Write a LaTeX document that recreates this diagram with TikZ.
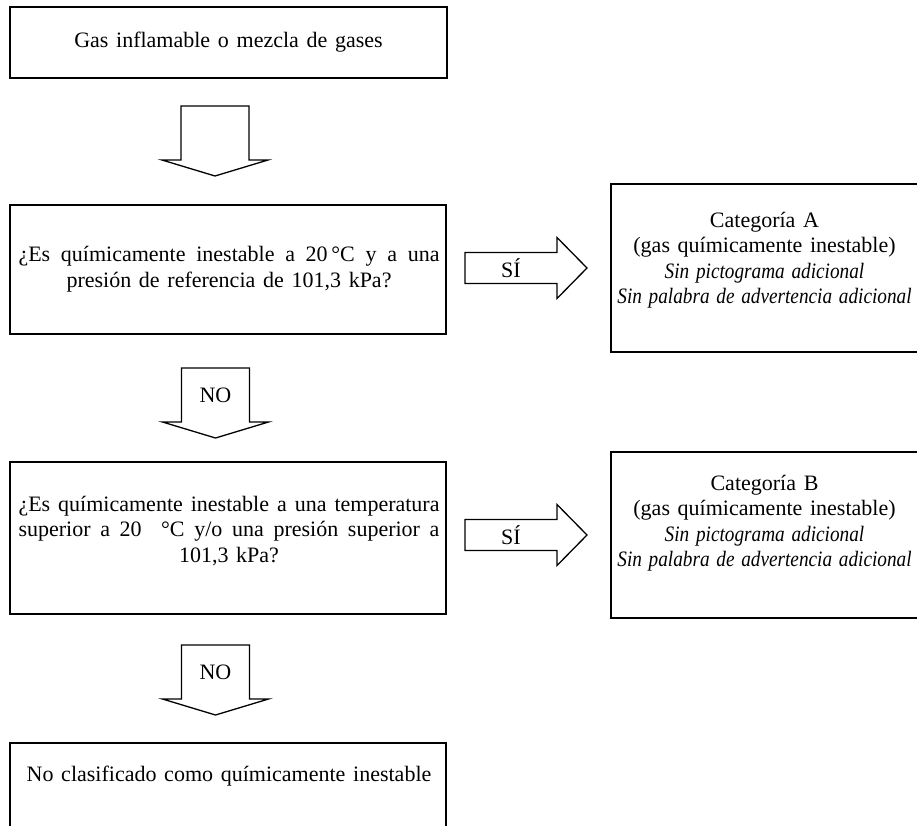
\documentclass[tikz,border=0pt]{standalone}
\usepackage{fontspec}
\setmainfont{Liberation Serif}[WordSpace={1.4,1.6,1}]
\usetikzlibrary{calc}

\tikzset{
  box/.style={draw, line width=1.6pt, inner sep=0pt, rectangle},
  blockarrow/.style={draw, line width=1.3pt, line join=miter, fill=white},
  txt/.style={font=\fontsize{22}{25.5}\selectfont, align=center, inner sep=0pt},
  lbl/.style={font=\fontsize{22}{25.5}\selectfont, inner sep=0pt},
}
% italic remark lines, set slightly narrower
\newcommand{\remark}[1]{\scalebox{0.875}[1]{\itshape #1}}
% a justified line of a given width
\newcommand{\fullline}[2]{\makebox[#1][s]{#2}}

\begin{document}
\begin{tikzpicture}[x=1pt,y=-1pt]
\clip (0,0) rectangle (917,825);

% ---- boxes of the main column ----
\node[box, txt, minimum width=437pt, minimum height=71pt] (start) at (228.5,42.5)
  {Gas inflamable o mezcla de gases};

\node[box, minimum width=436pt, minimum height=129pt] (q1) at (228,269.5) {};
\node[txt] (q1text) at (229,269)
  {\fullline{421pt}{¿Es químicamente inestable a 20\,°C y a una}\\
   presión de referencia de 101,3 kPa?};

\node[box, minimum width=436pt, minimum height=152pt] (q2) at (228,538) {};
\node[txt] (q2text) at (229,531)
  {\fullline{421pt}{¿Es químicamente inestable a una temperatura}\\
   \fullline{421pt}{superior a 20\ \ °C y/o una presión superior a}\\
   101,3 kPa?};

\node[box, minimum width=436pt, minimum height=97pt] (none) at (228,791.5) {};
\node[txt] (nonetext) at (229,776) {No clasificado como químicamente inestable};

% ---- result boxes on the right ----
\node[box, minimum width=310pt, minimum height=168pt] (catA) at (766,268) {};
\node[txt] (catAtext) at (764.5,260)
  {Categoría A\\ (gas químicamente inestable)\\
   \remark{Sin pictograma adicional}\\
   \remark{Sin palabra de advertencia adicional}};

\node[box, minimum width=310pt, minimum height=166pt] (catB) at (766,535) {};
\node[txt] (catBtext) at (764.5,523)
  {Categoría B\\ (gas químicamente inestable)\\
   \remark{Sin pictograma adicional}\\
   \remark{Sin palabra de advertencia adicional}};

% ---- block arrows ----
\coordinate (d0) at (215,106);
\coordinate (d1) at (215.5,368);
\coordinate (d2) at (215.5,645);
\foreach \c in {d0,d1,d2}
  \draw[blockarrow, shift={(\c)}]
    (-34,0) -- (34,0) -- (34,54) -- (53,54) -- (0,70) -- (-53,54) -- (-34,54) -- cycle;

\coordinate (r1) at (465,268);
\coordinate (r2) at (465,535);
\foreach \c in {r1,r2}
  \draw[blockarrow, shift={(\c)}]
    (0,-15.5) -- (92,-15.5) -- (92,-30.5) -- (122,0) -- (92,30.5) -- (92,15.5) -- (0,15.5) -- cycle;

\node[lbl] (no1) at ($(d1)+(0,27)$) {NO};
\node[lbl] (no2) at ($(d2)+(0,27)$) {NO};
\node[lbl] (si1) at ($(r1)+(46,0)$) {SÍ};
\node[lbl] (si2) at ($(r2)+(46,0)$) {SÍ};
\end{tikzpicture}
\end{document}
